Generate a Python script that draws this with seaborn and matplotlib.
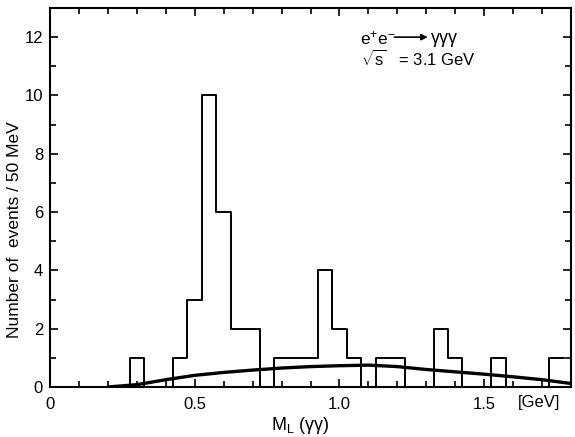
import numpy as np
import pandas as pd
import seaborn as sns
import matplotlib
matplotlib.use("Agg")
import matplotlib.pyplot as plt
from matplotlib.ticker import MultipleLocator, FixedLocator

# ---- data ----
bin_centers = [0.30, 0.45, 0.50, 0.55, 0.60, 0.65, 0.70, 0.80, 0.85, 0.90,
               0.95, 1.00, 1.05, 1.15, 1.20, 1.35, 1.40, 1.55, 1.75]
counts = [1, 1, 3, 10, 6, 2, 2, 1, 1, 1, 4, 2, 1, 1, 1, 2, 1, 1, 1]
bin_width = 0.05
bin_start = 0.025
bin_stop = 1.775

curve_x = [0.20, 0.30, 0.40, 0.50, 0.60, 0.70, 0.80, 0.90, 1.00, 1.10,
           1.20, 1.30, 1.40, 1.50, 1.60, 1.70, 1.80]
curve_y = [0.0, 0.08, 0.25, 0.40, 0.50, 0.58, 0.65, 0.70, 0.73, 0.75,
           0.70, 0.60, 0.52, 0.44, 0.35, 0.25, 0.12]

x_tick_vals = [0.0, 0.5, 1.0, 1.5]
x_tick_labels = ["0", "0.5", "1.0", "1.5"]
y_tick_vals = [0, 2, 4, 6, 8, 10, 12]
y_tick_labels = ["0", "2", "4", "6", "8", "10", "12"]

sns.set_style("ticks")
plt.rcParams['font.family'] = ['Liberation Sans', 'DejaVu Sans']
plt.rcParams['mathtext.fontset'] = 'custom'
plt.rcParams['mathtext.rm'] = 'Liberation Sans'
plt.rcParams['mathtext.it'] = 'Liberation Sans'
for k in ['text.color', 'axes.labelcolor', 'xtick.color', 'ytick.color']:
    plt.rcParams[k] = 'black'

fig = plt.figure(figsize=(5.75, 4.37), dpi=100)
ax = fig.add_axes([50/575, 1 - 387/437, 521/575, (387 - 8)/437])

df = pd.DataFrame({"m": bin_centers, "n": counts})
edges = [float(v) for v in np.arange(bin_start, bin_stop + 1e-9, bin_width)]
sns.histplot(data=df, x="m", weights="n", bins=edges, element="step",
             fill=False, color="black", linewidth=1.4, ax=ax)

cdf = pd.DataFrame({"x": curve_x, "y": curve_y})
sns.lineplot(data=cdf, x="x", y="y", color="black", linewidth=2.4, ax=ax)

ax.set_xlim(0, 1.8)
ax.set_ylim(0, 13)

for s in ax.spines.values():
    s.set_visible(True)
    s.set_linewidth(1.5)
    s.set_color("black")

ax.xaxis.set_major_locator(FixedLocator(x_tick_vals))
ax.set_xticklabels(x_tick_labels)
ax.xaxis.set_minor_locator(MultipleLocator(0.1))
ax.yaxis.set_major_locator(FixedLocator(y_tick_vals))
ax.set_yticklabels(y_tick_labels)
ax.yaxis.set_minor_locator(MultipleLocator(1))
ax.tick_params(which="both", direction="in", top=True, right=True,
               color="black", width=1.2)
ax.tick_params(which="major", length=6, labelsize=12)
ax.tick_params(axis="x", which="major", pad=7)
ax.tick_params(axis="y", which="major", pad=5)
ax.tick_params(which="minor", length=4.5)

ax.set_xlabel(r"M$_\mathregular{L}$ (γγ)", fontsize=13)
ax.xaxis.set_label_coords(0.48, -0.074)
ax.set_ylabel("Number of  events / 50 MeV", fontsize=12.5)
ax.yaxis.set_label_coords(-0.054, 0.414)

ax.text(1.69, -0.04, "[GeV]", transform=ax.get_xaxis_transform(),
        fontsize=12, ha="center", va="center")

# reaction label
ax.text(1.07, 11.95, "e$^{+}$e$^{-}$", fontsize=12.5, ha="left", va="center")
ax.annotate("", xy=(1.305, 12.0), xytext=(1.19, 12.0),
            arrowprops=dict(arrowstyle="-|>", color="black", lw=1.2,
                            mutation_scale=9, shrinkA=0, shrinkB=0))
ax.text(1.315, 11.95, "γγγ", fontsize=13, ha="left", va="center")
ax.text(1.075, 11.25, r"$\sqrt{\mathregular{s}}$   = 3.1 GeV", fontsize=12,
        ha="left", va="center")

fig.savefig("out.png", dpi=100)
